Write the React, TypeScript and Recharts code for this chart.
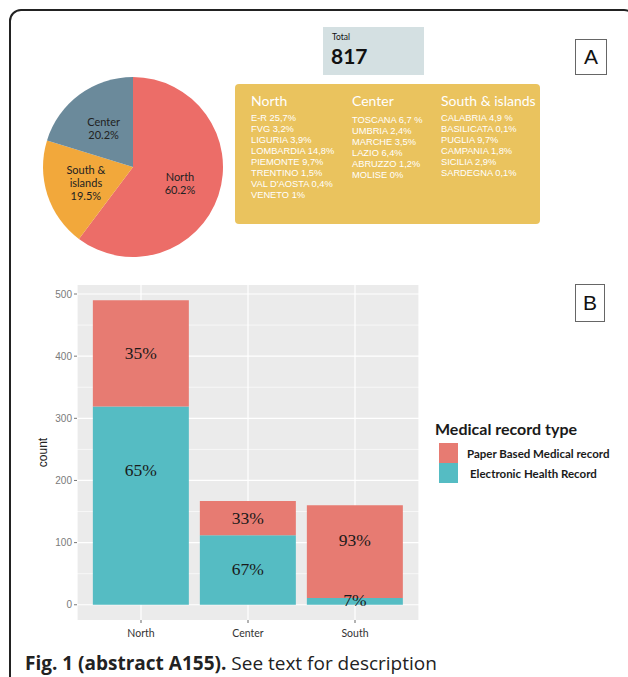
import {
  PieChart,
  Pie,
  Cell,
  BarChart,
  Bar,
  XAxis,
  YAxis,
  CartesianGrid,
  Legend,
  LabelList,
} from "recharts";

// panel A: share of centres by macro-area
const regions = ["North", "South & islands", "Center"];
const regionLabelLines = [["North"], ["South &", "islands"], ["Center"]];
const regionShares = [60.2, 19.5, 20.2];
const regionColors = ["#EC6D68", "#F2A83B", "#6B8A9B"];

const totalCentres = 817;

const northDetail = [
  "E-R 25,7%",
  "FVG 3,2%",
  "LIGURIA 3,9%",
  "LOMBARDIA 14,8%",
  "PIEMONTE 9,7%",
  "TRENTINO 1,5%",
  "VAL D'AOSTA 0,4%",
  "VENETO 1%",
];
const centerDetail = [
  "TOSCANA 6,7 %",
  "UMBRIA 2,4%",
  "MARCHE 3,5%",
  "LAZIO 6,4%",
  "ABRUZZO 1,2%",
  "MOLISE 0%",
];
const southDetail = [
  "CALABRIA 4,9 %",
  "BASILICATA 0,1%",
  "PUGLIA 9,7%",
  "CAMPANIA 1,8%",
  "SICILIA 2,9%",
  "SARDEGNA 0,1%",
];

// panel B: record type by area
const areas = ["North", "Center", "South"];
const ehrCounts = [319, 112, 11];
const paperCounts = [171, 55, 149];
const ehrPct = ["65%", "67%", "7%"];
const paperPct = ["35%", "33%", "93%"];
// count value where each percentage label sits
const ehrLabelAt = [217, 57, 8];
const paperLabelAt = [405, 139, 104];
const countTicks = [0, 100, 200, 300, 400, 500];
const minorTicks = [50, 150, 250, 350, 450];

const PAPER = "#E77B72";
const EHR = "#55BCC3";

const pieData = regions.map((name, i) => ({
  name,
  value: regionShares[i],
  lines: regionLabelLines[i],
}));

const barData = areas.map((area, i) => ({
  area,
  ehr: ehrCounts[i],
  paper: paperCounts[i],
}));

function renderPieLabel(props: any) {
  const { cx, cy, midAngle, outerRadius, index } = props;
  const r = outerRadius * 0.55;
  const rad = (Math.PI / 180) * midAngle;
  const x = cx + r * Math.cos(rad);
  const y = cy - r * Math.sin(rad);
  const lines = [...pieData[index].lines, `${pieData[index].value.toFixed(1)}%`];
  const lh = 13;
  const y0 = y - ((lines.length - 1) * lh) / 2;
  return (
    <text
      x={x}
      y={y0}
      textAnchor="middle"
      dominantBaseline="central"
      fontFamily="Lato, sans-serif"
      fontSize={11}
      fill="#222"
    >
      {lines.map((l, k) => (
        <tspan key={k} x={x} y={y0 + k * lh}>
          {l}
        </tspan>
      ))}
    </text>
  );
}

function makeSegmentLabel(texts: string[], at: number[], counts: number[], base: number[]) {
  return (props: any) => {
    const { x, y, width, height, index } = props;
    const h = Math.abs(height);
    const top = Math.min(y, y + height);
    const py = top + h - ((at[index] - base[index]) / counts[index]) * h;
    return (
      <text
        x={x + width / 2}
        y={py}
        textAnchor="middle"
        dominantBaseline="central"
        fontFamily="'Liberation Serif', serif"
        fontSize={17.5}
        fill="#1a1a1a"
      >
        {texts[index]}
      </text>
    );
  };
}

function RecordLegend({ payload }: any) {
  const items = [...(payload ?? [])].reverse();
  return (
    <div style={{ fontFamily: "Lato, sans-serif", color: "#1a1a1a" }}>
      <div style={{ fontSize: 16, fontWeight: 700, lineHeight: "20px" }}>
        Medical record type
      </div>
      <div style={{ marginTop: 4, marginLeft: 4 }}>
        {items.map((it: any, k: number) => (
          <div key={it.value} style={{ display: "flex", alignItems: "center", height: 20 }}>
            <span style={{ width: 19, height: 20, background: it.color, display: "inline-block" }} />
            <span style={{ marginLeft: k === 0 ? 9 : 12, fontSize: 11.5, fontWeight: 700 }}>
              {it.value}
            </span>
          </div>
        ))}
      </div>
    </div>
  );
}

const detailCol = (title: string, items: string[], left: number, itemTop: number) => (
  <div style={{ position: "absolute", left, top: 92 }}>
    <div
      style={{
        fontFamily: "Lato, sans-serif",
        fontSize: 14,
        lineHeight: "18px",
        color: "#fff",
        whiteSpace: "nowrap",
      }}
    >
      {title}
    </div>
    <div style={{ position: "absolute", top: itemTop, left: 0, whiteSpace: "nowrap" }}>
      {items.map((t) => (
        <div
          key={t}
          style={{
            fontFamily: "'Liberation Sans', Arial, sans-serif",
            fontSize: 9.3,
            lineHeight: "11px",
            color: "#fff",
          }}
        >
          {t}
        </div>
      ))}
    </div>
  </div>
);

export default function App() {
  return (
    <div
      style={{
        position: "absolute",
        left: 0,
        top: 0,
        width: 628,
        height: 677,
        overflow: "hidden",
        background: "#fff",
      }}
    >
      <div
        style={{
          position: "absolute",
          left: 9,
          top: 9,
          width: 627,
          height: 720,
          border: "2px solid #222",
          borderRadius: 12,
          boxSizing: "border-box",
        }}
      />

      <div style={{ position: "absolute", left: 0, top: 34 }}>
        <PieChart width={256} height={256}>
          <Pie
            data={pieData}
            dataKey="value"
            cx={128}
            cy={128}
            outerRadius={90}
            startAngle={90}
            endAngle={-270}
            stroke="none"
            label={renderPieLabel}
            labelLine={false}
            isAnimationActive={false}
          >
            {pieData.map((_, i) => (
              <Cell key={i} fill={regionColors[i]} />
            ))}
          </Pie>
        </PieChart>
      </div>

      <div
        style={{
          position: "absolute",
          left: 323,
          top: 27,
          width: 101,
          height: 48,
          background: "#D4E0E2",
          fontFamily: "Lato, sans-serif",
          color: "#111",
        }}
      >
        <div style={{ position: "absolute", left: 9, top: 5, fontSize: 8.5 }}>Total</div>
        <div style={{ position: "absolute", left: 8, top: 16, fontSize: 21, fontWeight: 700 }}>
          {totalCentres}
        </div>
      </div>

      <div
        style={{
          position: "absolute",
          left: 235,
          top: 84,
          width: 305,
          height: 140,
          background: "#EAC35E",
          borderRadius: 4,
        }}
      />
      {detailCol("North", northDetail, 251, 21)}
      {detailCol("Center", centerDetail, 352, 23)}
      {detailCol("South & islands", southDetail, 441, 21)}

      {[
        { t: "A", top: 39, h: 36, w: 32 },
        { t: "B", top: 284, h: 38, w: 30 },
      ].map((b) => (
        <div
          key={b.t}
          style={{
            position: "absolute",
            left: 575,
            top: b.top,
            width: b.w,
            height: b.h,
            border: "1.5px solid #666",
            boxSizing: "border-box",
            display: "flex",
            alignItems: "center",
            justifyContent: "center",
            fontFamily: "'Liberation Sans', Arial, sans-serif",
            fontSize: 21,
            color: "#111",
          }}
        >
          {b.t}
        </div>
      ))}

      <div style={{ position: "absolute", left: 0, top: 270 }}>
        <BarChart
          width={628}
          height={380}
          data={barData}
          margin={{ top: 15, right: 209, bottom: 0, left: 0 }}
          barCategoryGap="5%"
        >
          <CartesianGrid
            fill="#EBEBEB"
            stroke="#fff"
            strokeWidth={0.6}
            vertical={false}
            horizontalValues={minorTicks}
          />
          <CartesianGrid stroke="#fff" strokeWidth={1.2} horizontalValues={countTicks} />
          <XAxis
            dataKey="area"
            padding={{ left: 10.5, right: 10.5 }}
            axisLine={false}
            tickSize={3}
            tickMargin={7}
            tickLine={{ stroke: "#666" }}
            height={30}
            tick={{ fontFamily: "Lato, sans-serif", fontSize: 10.5, fill: "#333" }}
          />
          <YAxis
            type="number"
            domain={[-24.5, 514.5]}
            ticks={countTicks}
            interval={0}
            width={77}
            axisLine={false}
            tickSize={3}
            tickMargin={2}
            tickLine={{ stroke: "#777" }}
            tick={{ fontFamily: "'Liberation Sans', Arial, sans-serif", fontSize: 10, fill: "#7a7a7a" }}
            label={{
              value: "count",
              angle: -90,
              position: "center",
              dx: 4,
              style: { fontFamily: "'Liberation Sans', Arial, sans-serif", fontSize: 12, fill: "#222" },
            }}
          />
          <Legend
            layout="vertical"
            align="center"
            verticalAlign="middle"
            wrapperStyle={{ left: 435, top: 149, width: 190 }}
            content={<RecordLegend />}
          />
          <Bar dataKey="ehr" name="Electronic Health Record" stackId="a" fill={EHR} isAnimationActive={false}>
            <LabelList content={makeSegmentLabel(ehrPct, ehrLabelAt, ehrCounts, [0, 0, 0])} />
          </Bar>
          <Bar dataKey="paper" name="Paper Based Medical record" stackId="a" fill={PAPER} isAnimationActive={false}>
            <LabelList content={makeSegmentLabel(paperPct, paperLabelAt, paperCounts, ehrCounts)} />
          </Bar>
        </BarChart>
      </div>

      <div
        style={{
          position: "absolute",
          left: 25,
          top: 650,
          whiteSpace: "nowrap",
          fontFamily: "'Open Sans', sans-serif",
          fontSize: 19,
          color: "#222",
        }}
      >
        <b>Fig. 1 (abstract A155).</b> See text for description
      </div>
    </div>
  );
}
